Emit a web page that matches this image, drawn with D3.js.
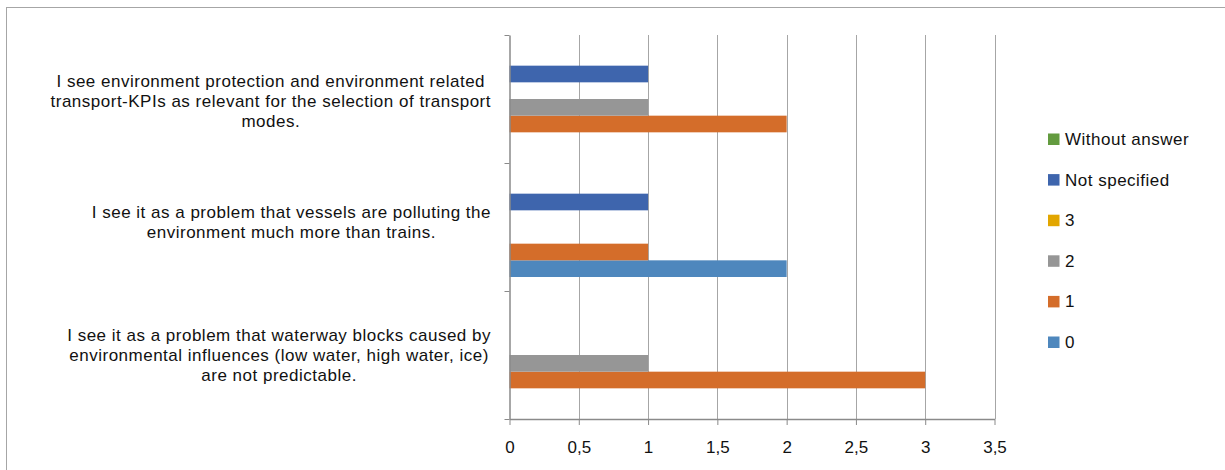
<!DOCTYPE html>
<html><head><meta charset="utf-8">
<script src="https://cdn.jsdelivr.net/npm/d3@7/dist/d3.min.js"></script>
<style>body{margin:0;background:#fff;} svg{display:block;}</style>
</head><body>
<svg id="chart" width="1225" height="470"></svg>
<script>
const categories = [
  ["I see environment protection and environment related", "transport-KPIs as relevant for the selection of transport", "modes."],
  ["I see it as a problem that vessels are polluting the", "environment much more than trains."],
  ["I see it as a problem that waterway blocks caused by", "environmental influences (low water, high water, ice)", "are not predictable."]
];
const seriesNames = ["0", "1", "2", "3", "Not specified", "Without answer"];
const values0 = [0, 2, 0];
const values1 = [2, 1, 3];
const values2 = [1, 0, 1];
const values3 = [0, 0, 0];
const valuesNotSpecified = [1, 1, 0];
const valuesWithoutAnswer = [0, 0, 0];
const seriesColors = ["#4e87bd", "#d46d2a", "#969696", "#e2a600", "#3e65ad", "#639b3f"];
const xTicks = [0, 0.5, 1, 1.5, 2, 2.5, 3, 3.5];

const seriesValues = [values0, values1, values2, values3, valuesNotSpecified, valuesWithoutAnswer];
const FONT = "'Liberation Sans', Arial, sans-serif";
const labelShift = [2.5, -5, 0]; // layout nudge of each wrapped label block
const lineH = 20;
const FS = 17;

const svg = d3.select("#chart");

// fit letter spacing so wrapped label lines approach the widths of the original (Calibri)
const probe = svg.append("text").attr("font-family", FONT).attr("font-size", FS);
const w = s => { probe.text(s); return probe.node().getComputedTextLength(); };
const fitLines = [categories[0][0], categories[1][0], categories[2][0], categories[2][1]];
const total = d3.sum(fitLines, w);
const chars = d3.sum(fitLines, s => s.length);
const LS = Math.max(0, Math.min(0.5, ((430 + 415 + 442 + 454) - total) / chars));
probe.remove();

// outer frame
svg.append("rect").attr("x", 6.5).attr("y", 7.5).attr("width", 1240).attr("height", 480)
  .attr("fill", "none").attr("stroke", "#a6a6a6").attr("stroke-width", 1);

const catIdx = categories.map((d, i) => i);
const x = d3.scaleLinear().domain([0, 3.5]).range([509.5, 994.5]);
const y0 = d3.scaleBand().domain(catIdx).range([35, 419]).padding(0);
const y1 = d3.scaleBand().domain(seriesNames.slice().reverse()).range([14, 114]).padding(0);

// gridlines
svg.append("g").selectAll("line").data(xTicks.filter(t => t > 0)).join("line")
  .attr("x1", d => Math.round(x(d)) + 0.5).attr("x2", d => Math.round(x(d)) + 0.5)
  .attr("y1", 35).attr("y2", 419)
  .attr("stroke", "#a6a6a6").attr("stroke-width", 1);

// bars
const barData = [];
catIdx.forEach(ci => seriesNames.forEach((s, si) => {
  barData.push({ci, s, si, v: seriesValues[si][ci]});
}));
svg.append("g").selectAll("rect").data(barData.filter(d => d.v > 0)).join("rect")
  .attr("x", x(0))
  .attr("y", d => y0(d.ci) + y1(d.s))
  .attr("width", d => x(d.v) - x(0))
  .attr("height", y1.bandwidth())
  .attr("fill", d => seriesColors[d.si]);

// x axis
const xAxis = d3.axisBottom(x).tickValues(xTicks).tickSize(6).tickSizeOuter(0)
  .tickFormat(d => String(d).replace(".", ","));
const gx = svg.append("g").attr("transform", "translate(0,419)").call(xAxis);
gx.select(".domain").attr("stroke", "#8a8a8a").attr("stroke-width", 1.5);
gx.selectAll(".tick line").attr("stroke", "#8a8a8a").attr("stroke-width", 1);
gx.selectAll(".tick text").attr("font-family", FONT).attr("font-size", FS).attr("fill", "#111")
  .attr("y", 28).attr("dy", "0.35em");

// y axis (category boundaries ticks)
const yb = d3.scaleLinear().domain([0, 3]).range([35, 419]);
const yAxis = d3.axisLeft(yb).tickValues([0, 1, 2, 3]).tickSize(5).tickSizeOuter(0).tickFormat("");
const gy = svg.append("g").attr("transform", "translate(509.5,0)").call(yAxis);
gy.select(".domain").attr("stroke", "#8a8a8a").attr("stroke-width", 1.5);
gy.selectAll(".tick line").attr("stroke", "#8a8a8a").attr("stroke-width", 1);

// category labels (one text per label, lines as tspans, block right-aligned, lines centred)
const labelRight = 490.5;
categories.forEach((lines, ci) => {
  const cy = y0(ci) + y0.bandwidth() / 2 + labelShift[ci];
  const t = svg.append("text")
    .attr("font-family", FONT).attr("font-size", FS).attr("fill", "#111")
    .attr("letter-spacing", LS)
    .attr("text-anchor", "middle");
  const spans = lines.map((ln, li) => t.append("tspan")
    .attr("y", cy + (li - (lines.length - 1) / 2) * lineH)
    .attr("dy", "0.35em")
    .text(ln));
  const maxW = d3.max(spans, s => s.node().getComputedTextLength()) - LS;
  spans.forEach(s => s.attr("x", labelRight - maxW / 2 + LS / 2));
});

// legend
const legendOrder = seriesNames.slice().reverse();
const lg = svg.append("g");
legendOrder.forEach((s, i) => {
  const cy = 139 + i * 40.6;
  const si = seriesNames.indexOf(s);
  lg.append("rect").attr("x", 1048).attr("y", cy - 5.5).attr("width", 11.5).attr("height", 11.5)
    .attr("fill", seriesColors[si]);
  lg.append("text").attr("x", 1065).attr("y", cy).attr("dy", "0.35em")
    .attr("font-family", FONT).attr("font-size", FS).attr("fill", "#111")
    .attr("letter-spacing", LS).text(s);
});
</script>
</body></html>
